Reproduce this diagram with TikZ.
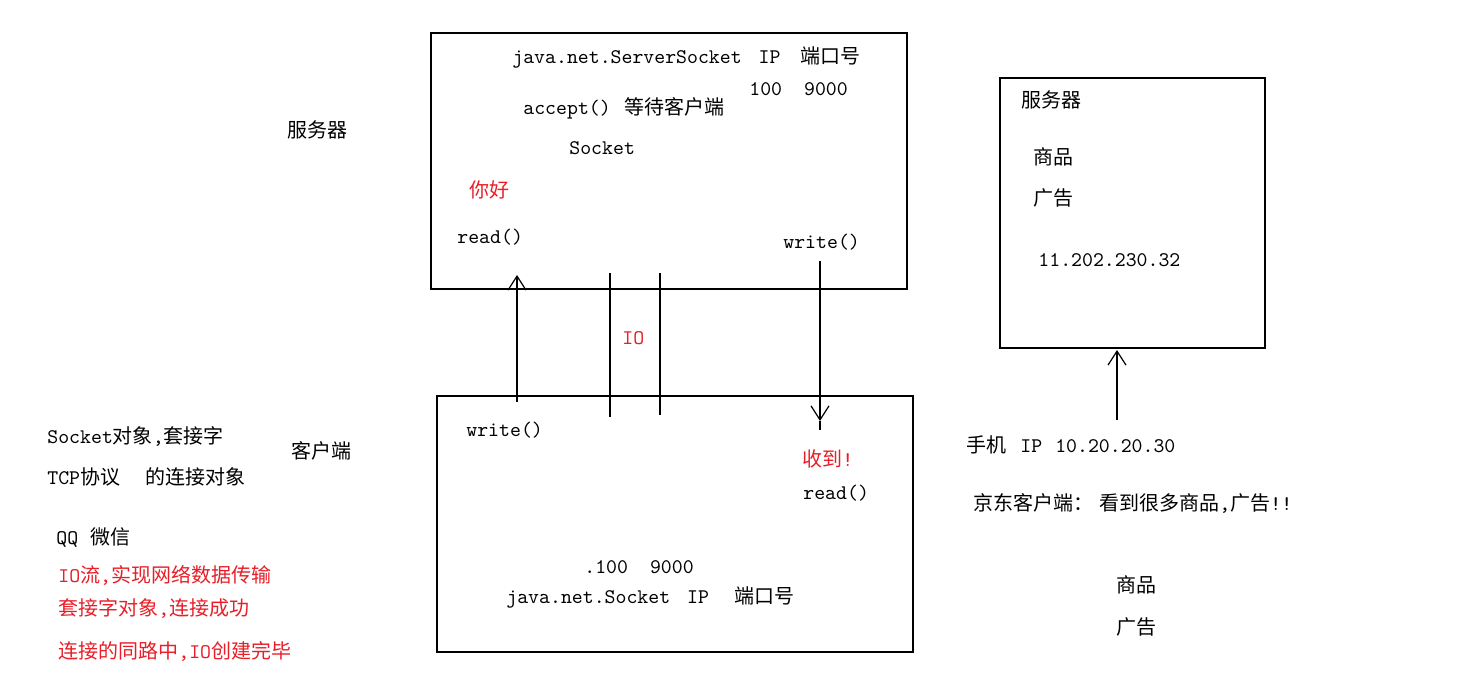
\documentclass[tikz,border=0pt]{standalone}
\usepackage{fontspec}
\newfontfamily\cjk{Noto Sans CJK SC}
\usetikzlibrary{arrows.meta}
\newcommand\zh[1]{{\cjk\fontsize{10pt}{12pt}\selectfont #1}}
\definecolor{notered}{RGB}{232,30,40}

\begin{document}
\begin{tikzpicture}[x=0.5pt, y=-0.5pt,
	txt/.style={anchor=west, inner sep=0pt, font=\ttfamily\fontsize{10.4pt}{12pt}\selectfont},
	redtxt/.style={txt, text=notered},
	wire/.style={line width=0.6pt},
	barb/.style={wire, -{Straight Barb[length=7pt, width=9pt]}}]
			%%%%% START %%%%%
			
			\useasboundingbox[fill=white] (0, 0) rectangle (1462, 694);
			
			% boxes
			\draw[wire] (431, 33) rectangle (907, 289);
			\draw[wire] (437, 396) rectangle (913, 652);
			\draw[wire] (1000, 78) rectangle (1265, 348);
			
			% server box
			\node[txt] (srvname) at (512, 57) {java.net.ServerSocket\hspace{8.5pt}IP\hspace{10pt}\zh{端口号}};
			\node[txt] (srvport) at (749, 89) {100\hspace{11pt}9000};
			\node[txt] (accept) at (523, 108) {accept()\hspace{7pt}\zh{等待客户端}};
			\node[txt] (sock) at (569, 148) {Socket};
			\node[redtxt] (hello) at (469, 190) {\zh{你好}};
			\node[txt] (srvread) at (457, 237) {read()};
			\node[txt] (srvwrite) at (783, 242) {write()};
			\node[txt] (srvlabel) at (287, 130) {\zh{服务器}};
			
			% client box
			\node[txt] (cliwrite) at (466, 430) {write()};
			\node[redtxt] (got) at (802, 459) {\zh{收到}!};
			\node[txt] (cliread) at (803, 493) {read()};
			\node[txt] (cliport) at (584, 567) {.100\hspace{11pt}9000};
			\node[txt] (cliname) at (506, 597) {java.net.Socket\hspace{8.5pt}IP\hspace{12.5pt}\zh{端口号}};
			\node[txt] (clilabel) at (291, 451) {\zh{客户端}};
			
			% wires between the boxes
			\coordinate (upfoot) at (517, 402);
			\coordinate (uptip) at (517, 275);
			\coordinate (ioatop) at (610, 273);
			\coordinate (ioabot) at (610, 417);
			\coordinate (iobtop) at (660, 273);
			\coordinate (iobbot) at (660, 415);
			\coordinate (downtop) at (820, 261);
			\coordinate (downtip) at (820, 421);
			\coordinate (downend) at (820, 430);
			
			\draw[barb] (upfoot) -- (uptip);
			\draw[wire] (ioatop) -- (ioabot);
			\draw[wire] (iobtop) -- (iobbot);
			\draw[barb] (downtop) -- (downtip);
			\draw[wire] (downtip) -- (downend);
			\node[redtxt] (io) at (622, 338) {IO};
			
			% notes on the left
			\node[txt] (noteA) at (47, 436) {Socket\zh{对象},\zh{套接字}};
			\node[txt] (noteB) at (47, 477) {TCP\zh{协议}\hspace{12.5pt}\zh{的连接对象}};
			\node[txt] (noteC) at (56, 538) {QQ\hspace{6pt}\zh{微信}};
			\node[redtxt] (noteD) at (58, 575) {IO\zh{流},\zh{实现网络数据传输}};
			\node[redtxt] (noteE) at (58, 608) {\zh{套接字对象},\zh{连接成功}};
			\node[redtxt] (noteF) at (58, 651) {\zh{连接的同路中},IO\zh{创建完毕}};
			
			% shop server on the right
			\node[txt] (shopname) at (1021, 100) {\zh{服务器}};
			\node[txt] (shopgoods) at (1033, 157) {\zh{商品}};
			\node[txt] (shopads) at (1033, 198) {\zh{广告}};
			\node[txt] (shopip) at (1038, 260) {11.202.230.32};
			
			\coordinate (phonefoot) at (1117, 420);
			\coordinate (phonetip) at (1117, 350);
			\draw[barb] (phonefoot) -- (phonetip);
			
			\node[txt] (phone) at (966, 445) {\zh{手机}\hspace{7pt}IP\hspace{6.5pt}10.20.20.30};
			\node[txt] (jd) at (973, 503) {\zh{京东客户端：}\hspace{3pt}\zh{看到很多商品},\zh{广告}!!};
			\node[txt] (goods) at (1116, 585) {\zh{商品}};
			\node[txt] (ads) at (1116, 627) {\zh{广告}};
			
			%%%%% END %%%%%
\end{tikzpicture}
\end{document}
